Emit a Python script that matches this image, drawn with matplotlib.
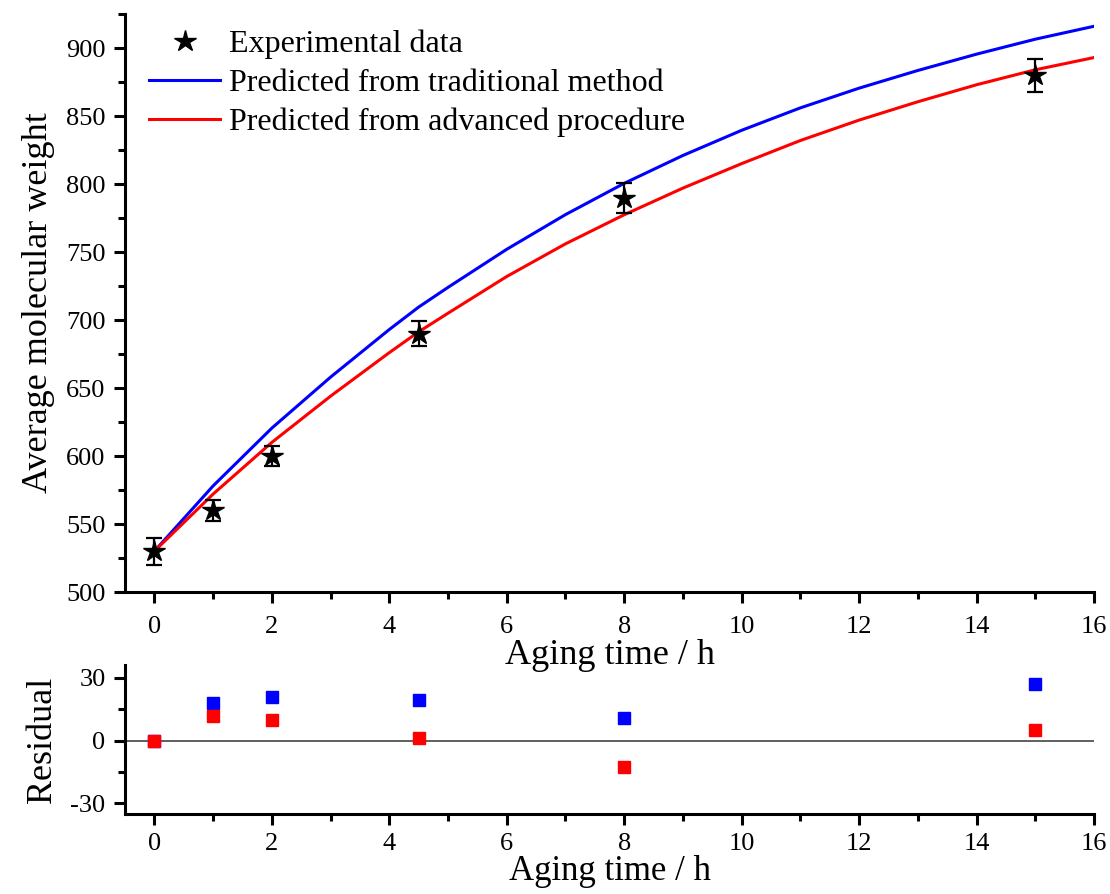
import numpy as np
import matplotlib
matplotlib.use("Agg")
import matplotlib.pyplot as plt

plt.rcParams["font.family"] = ["Liberation Serif", "DejaVu Serif"]
plt.rcParams["axes.unicode_minus"] = False

# experimental data
t_exp = [0, 1, 2, 4.5, 8, 15]
mw_exp = [530, 560, 600, 690, 790, 880]
mw_err = [10, 8, 7.5, 9, 11, 12]

# predicted curves
t_fit = [0, 1, 2, 3, 4, 4.5, 5, 6, 7, 8, 9, 10, 11, 12, 13, 14, 15, 16]
mw_trad = [530, 578, 620.5, 658, 693, 709.5, 724, 752, 777.5, 800.5, 821, 839.5,
           856, 870.5, 883.5, 895.5, 906.5, 916]
mw_adv = [530, 572, 610, 644, 676, 691.3, 705, 732, 756, 777.4, 797, 815,
          832, 847, 860.5, 873, 884, 893]

# residuals
res_trad = [0, 18, 20.6, 19.5, 10.6, 26.9]
res_adv = [0, 11.9, 10, 1.3, -12.6, 4.8]

blue = "#0000FF"
red = "#FF0000"

fig = plt.figure(figsize=(11.10, 8.94), dpi=100)
ax1 = fig.add_axes([0.1126, 0.3378, 0.8730, 0.6465])
ax2 = fig.add_axes([0.1126, 0.0895, 0.8730, 0.1667])
ax2.set_facecolor("none")
ax1.set_zorder(2)
ax1.set_facecolor("none")

for ax in (ax1, ax2):
    for s in ("top", "right"):
        ax.spines[s].set_visible(False)
    for s in ("left", "bottom"):
        ax.spines[s].set_linewidth(2.2)
    ax.tick_params(which="major", direction="out", length=8, width=2.2,
                   labelsize=19, pad=6)
    ax.tick_params(which="minor", direction="out", length=5, width=2.2)
    ax.set_xlim(-0.5, 16)
    ax.set_xticks(np.arange(0, 17, 2))
    ax.set_xticks(np.arange(1, 16, 2), minor=True)
ax1.tick_params(axis="x", which="major", pad=9)
ax2.tick_params(axis="x", which="major", pad=6)

# top panel
ax1.plot(t_fit, mw_trad, color=blue, lw=2.2, label="Predicted from traditional method")
ax1.plot(t_fit, mw_adv, color=red, lw=2.2, label="Predicted from advanced procedure")
ax1.errorbar(t_exp, mw_exp, yerr=mw_err, fmt="none", ecolor="k",
             elinewidth=1.6, capsize=6, capthick=1.6, zorder=4)
ax1.plot(t_exp, mw_exp, linestyle="none", marker="*", color="k",
         markersize=16, zorder=5, label="Experimental data")
ax1.set_ylim(500, 925)
ax1.set_yticks(np.arange(500, 901, 50))
ax1.set_yticks(np.arange(525, 926, 50), minor=True)
ax1.set_xlabel("Aging time / h", fontsize=26, labelpad=1)
ax1.set_ylabel("Average molecular weight", fontsize=26, labelpad=8)

h, l = ax1.get_legend_handles_labels()
order = [2, 0, 1]
ax1.legend([h[i] for i in order], [l[i] for i in order], loc="upper left",
           bbox_to_anchor=(0.012, 0.995), frameon=False, fontsize=23,
           handlelength=2.2, handletextpad=0.3, labelspacing=0.3,
           borderaxespad=0)

# residual panel
ax2.axhline(0, color="#444444", lw=1.2, zorder=1)
ax2.plot(t_exp, res_trad, linestyle="none", marker="s", color=blue,
         markersize=9, zorder=3)
ax2.plot(t_exp, res_adv, linestyle="none", marker="s", color=red,
         markersize=9, zorder=4)
ax2.set_ylim(-35, 36)
ax2.set_yticks([-30, 0, 30])
ax2.set_yticks([-15, 15], minor=True)
ax2.set_xlabel("Aging time / h", fontsize=25, labelpad=0)
ax2.set_ylabel("Residual", fontsize=26, labelpad=8)

fig.savefig("out.png", dpi=100)
